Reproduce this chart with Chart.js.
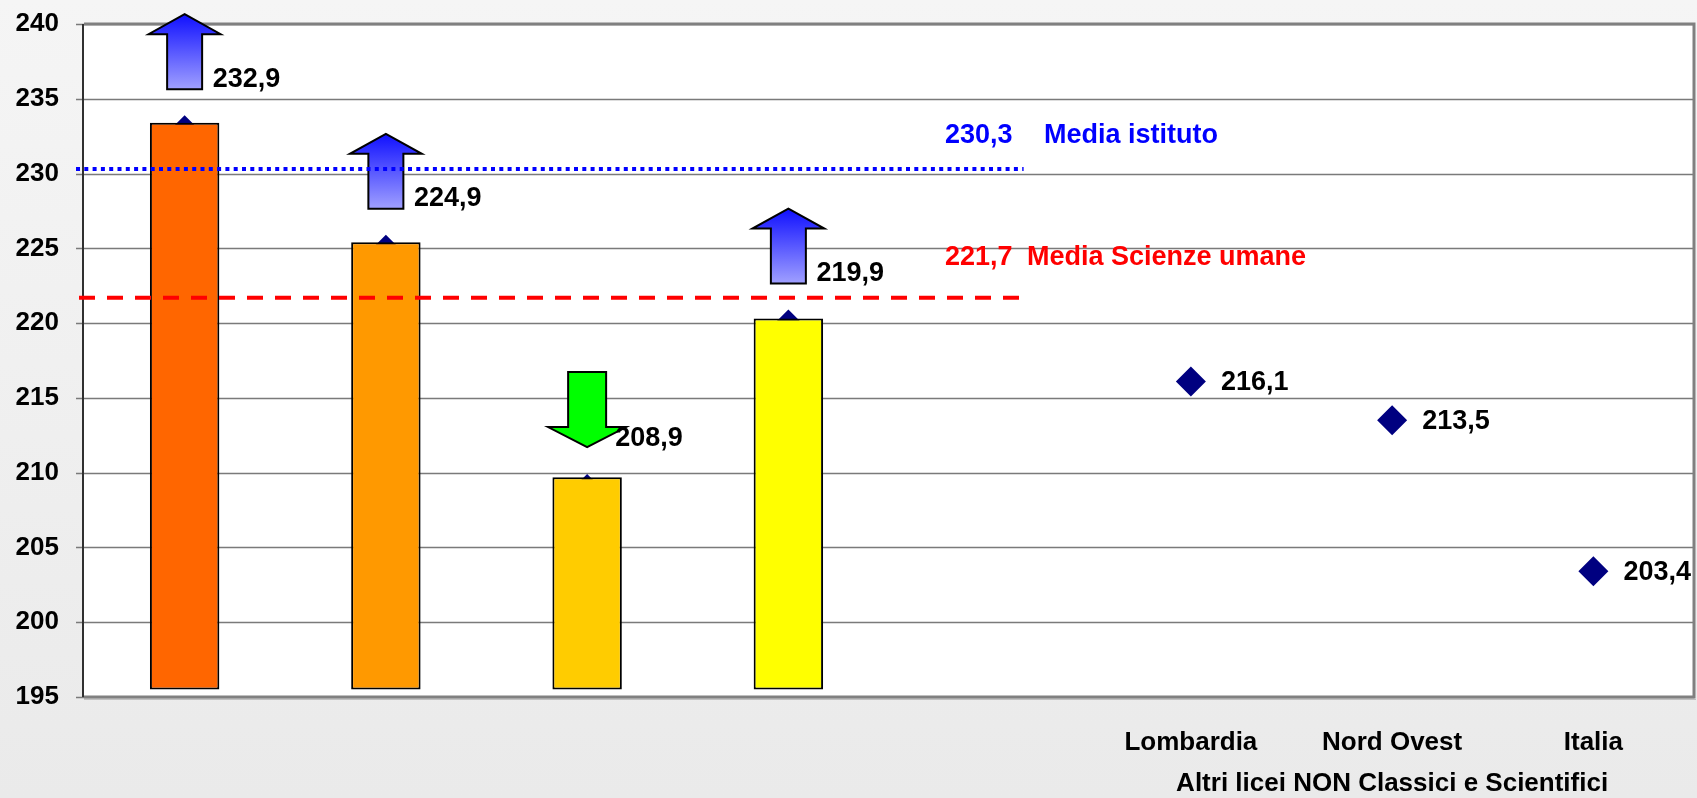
<!DOCTYPE html>
<html>
<head>
<meta charset="utf-8">
<script src="https://cdn.jsdelivr.net/npm/chart.js"></script>
<style>
html, body { margin: 0; padding: 0; }
body { width: 1697px; height: 798px; overflow: hidden; background: linear-gradient(#f5f5f5, #eaeaea); }
</style>
</head>
<body>
<canvas id="grafico" width="1697" height="798"></canvas>
<script>
// dati
const categorie = ['', '', '', '', '', 'Lombardia', 'Nord Ovest', 'Italia'];
const punteggi = [232.9, 224.9, 208.9, 219.9, null, 216.1, 213.5, 203.4];
const barreAlto = [233.4, 225.4, 209.7, 220.3, null, null, null, null];
const barreBase = 195.5;
const mediaIstituto = 230.3;
const mediaScienze = 221.7;
const tickY = [195, 200, 205, 210, 215, 220, 225, 230, 235, 240];
const gruppoTitolo = 'Altri licei NON Classici e Scientifici';

const coloriBarre = ['#FF6600', '#FF9900', '#FFCC00', '#FFFF00'];
const FONT = '"Liberation Sans", Arial, sans-serif';

function virgola(v) { return v.toFixed(1).replace('.', ','); }

// freccia su (blu) o giu (verde)
function freccia(ctx, x, yTop, yBottom, su, fill) {
  const headH = 20;
  const headW = su ? 36 : 39;
  const shaftW = su ? 17.5 : 19;
  ctx.save();
  ctx.beginPath();
  if (su) {
    ctx.moveTo(x, yTop);
    ctx.lineTo(x + headW, yTop + headH);
    ctx.lineTo(x + shaftW, yTop + headH);
    ctx.lineTo(x + shaftW, yBottom);
    ctx.lineTo(x - shaftW, yBottom);
    ctx.lineTo(x - shaftW, yTop + headH);
    ctx.lineTo(x - headW, yTop + headH);
  } else {
    ctx.moveTo(x, yBottom);
    ctx.lineTo(x + headW, yBottom - headH);
    ctx.lineTo(x + shaftW, yBottom - headH);
    ctx.lineTo(x + shaftW, yTop);
    ctx.lineTo(x - shaftW, yTop);
    ctx.lineTo(x - shaftW, yBottom - headH);
    ctx.lineTo(x - headW, yBottom - headH);
  }
  ctx.closePath();
  if (fill === 'blu') {
    const g = ctx.createLinearGradient(0, yTop, 0, yBottom);
    g.addColorStop(0, '#1010FF');
    g.addColorStop(1, '#A0A0FF');
    ctx.fillStyle = g;
  } else {
    ctx.fillStyle = fill;
  }
  ctx.fill();
  ctx.lineWidth = 2;
  ctx.strokeStyle = '#000';
  ctx.stroke();
  ctx.restore();
}

const decorazioni = {
  id: 'decorazioni',
  beforeDatasetsDraw(chart) {
    const { ctx, chartArea: a } = chart;
    ctx.save();
    ctx.fillStyle = '#fff';
    ctx.fillRect(a.left, a.top, a.right - a.left, a.bottom - a.top);
    // griglia
    const y = chart.scales.y;
    ctx.strokeStyle = '#7a7a7a';
    ctx.lineWidth = 1.5;
    tickY.forEach(t => {
      const py = Math.round(y.getPixelForValue(t)) + 0.5;
      ctx.beginPath();
      ctx.moveTo(a.left - 8, py);
      ctx.lineTo(a.right, py);
      ctx.stroke();
    });
    ctx.restore();
  },
  afterDatasetsDraw(chart) {
    const { ctx, chartArea: a } = chart;
    const x = chart.scales.x, y = chart.scales.y;
    ctx.save();

    // cornice
    ctx.strokeStyle = '#808080';
    ctx.lineWidth = 3;
    ctx.beginPath();
    ctx.moveTo(a.left, a.top);
    ctx.lineTo(a.right, a.top);
    ctx.lineTo(a.right, a.bottom);
    ctx.lineTo(a.left, a.bottom);
    ctx.stroke();
    ctx.strokeStyle = '#c0c0c0';
    ctx.lineWidth = 1;
    ctx.beginPath();
    ctx.moveTo(a.left, a.bottom + 2.5);
    ctx.lineTo(a.right + 2, a.bottom + 2.5);
    ctx.stroke();
    ctx.strokeStyle = '#303030';
    ctx.lineWidth = 2;
    ctx.beginPath();
    ctx.moveTo(a.left - 1, a.top);
    ctx.lineTo(a.left - 1, a.bottom);
    ctx.stroke();

    // frecce e valori delle scuole
    const rif = punteggi[5];
    ctx.font = 'bold 27px ' + FONT;
    ctx.textBaseline = 'middle';
    ctx.textAlign = 'left';
    punteggi.forEach((v, i) => {
      if (v === null) return;
      const px = x.getPixelForValue(i);
      const py = y.getPixelForValue(v);
      if (barreAlto[i] !== null) {
        if (v >= rif) freccia(ctx, px, py - 116, py - 41, true, 'blu');
        else freccia(ctx, px, py - 117, py - 42, false, '#00FF00');
        ctx.fillStyle = '#000';
        ctx.fillText(virgola(v), px + 28, py - 51);
      } else {
        ctx.fillStyle = '#000';
        ctx.fillText(virgola(v), px + 30, py + 1);
      }
    });

    // linee delle medie
    const xFine = x.getPixelForValue(4) + 34;
    const yIst = y.getPixelForValue(mediaIstituto);
    const ySci = y.getPixelForValue(mediaScienze);
    ctx.lineWidth = 4;
    ctx.strokeStyle = '#0000FF';
    ctx.setLineDash([4, 4.3]);
    ctx.beginPath();
    ctx.moveTo(a.left - 8, yIst);
    ctx.lineTo(xFine, yIst);
    ctx.stroke();
    ctx.strokeStyle = '#FF0000';
    ctx.setLineDash([16, 12]);
    ctx.beginPath();
    ctx.moveTo(a.left - 5, ySci);
    ctx.lineTo(xFine, ySci);
    ctx.stroke();
    ctx.setLineDash([]);

    ctx.textBaseline = 'alphabetic';
    ctx.fillStyle = '#0000FF';
    ctx.fillText(virgola(mediaIstituto), 945, yIst - 26);
    ctx.fillText('Media istituto', 1044, yIst - 26);
    ctx.fillStyle = '#FF0000';
    ctx.fillText(virgola(mediaScienze), 945, ySci - 33);
    ctx.fillText('Media Scienze umane', 1027, ySci - 33);

    // titolo del gruppo
    ctx.fillStyle = '#000';
    ctx.textAlign = 'center';
    ctx.textBaseline = 'middle';
    ctx.font = 'bold 26px ' + FONT;
    ctx.fillText(gruppoTitolo, x.getPixelForValue(6), 784);
    ctx.restore();
  }
};

const ctx = document.getElementById('grafico').getContext('2d');
new Chart(ctx, {
  data: {
    labels: categorie,
    datasets: [{
      type: 'bar',
      data: barreAlto.map(v => v === null ? null : [barreBase, v]),
      backgroundColor: coloriBarre,
      borderColor: '#000',
      borderWidth: 2,
      borderSkipped: false,
      barPercentage: 0.345,
      categoryPercentage: 1,
      order: 1
    }, {
      type: 'line',
      data: punteggi,
      showLine: false,
      clip: false,
      pointStyle: 'rectRot',
      pointRadius: 15,
      pointHoverRadius: 15,
      pointBackgroundColor: '#000080',
      pointBorderColor: '#000080',
      pointBorderWidth: 0,
      order: 2
    }]
  },
  options: {
    responsive: false,
    animation: false,
    layout: { autoPadding: false, padding: { top: 24, right: 3, left: 0, bottom: 0 } },
    plugins: { legend: { display: false }, tooltip: { enabled: false } },
    scales: {
      x: {
        grid: { display: false, drawTicks: false },
        border: { display: false },
        ticks: {
          color: '#000',
          font: { family: FONT, size: 26, weight: 'bold' },
          padding: 30,
          maxRotation: 0,
          autoSkip: false
        },
        afterFit(s) { s.height = 101; s.paddingLeft = 0; s.paddingRight = 0; }
      },
      y: {
        min: 195,
        max: 240,
        afterBuildTicks(s) { s.ticks = tickY.map(v => ({ value: v })); },
        grid: { display: false, drawTicks: false },
        border: { display: false },
        ticks: {
          color: '#000',
          font: { family: FONT, size: 26, weight: 'bold' },
          padding: 25
        },
        afterFit(s) { s.width = 84; s.paddingTop = 0; s.paddingBottom = 0; }
      }
    }
  },
  plugins: [decorazioni]
});
</script>
</body>
</html>
